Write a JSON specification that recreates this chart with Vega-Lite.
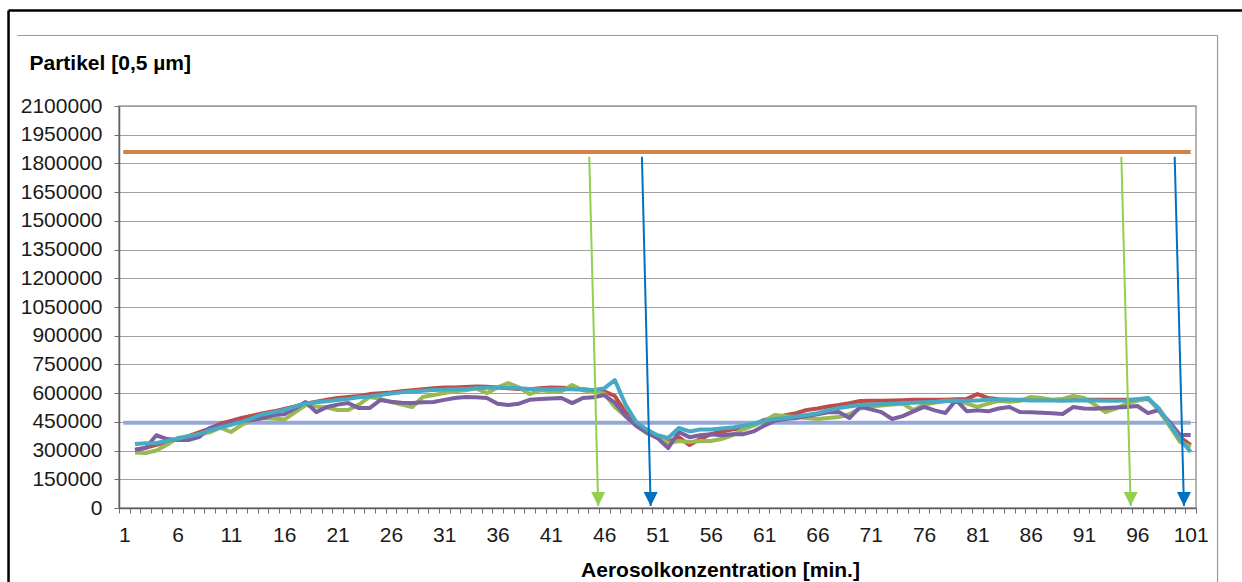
{
  "$schema": "https://vega.github.io/schema/vega-lite/v6.json",
  "width": 1077,
  "height": 402,
  "autosize": {"type": "none"},
  "padding": {"left": 119, "top": 106, "right": 46, "bottom": 74},
  "background": "#ffffff",
  "config": {
    "view": {"stroke": "#9a9a9a", "strokeWidth": 1.5},
    "font": "Liberation Sans",
    "axis": {
      "labelOverlap": false,
      "labelFlush": false,
      "labelFont": "Liberation Sans",
      "labelFontSize": 21,
      "labelColor": "#1a1a1a",
      "titleFont": "Liberation Sans",
      "titleFontSize": 21,
      "titleFontWeight": "bold",
      "titleColor": "#000000",
      "ticks": true,
      "tickSize": 5,
      "tickWidth": 1,
      "tickColor": "#707070",
      "domainColor": "#606060",
      "domainWidth": 1.5
    },
    "axisX": {"grid": false, "labelPadding": 11},
    "axisY": {"grid": true, "gridColor": "#a0a0a0", "gridWidth": 1.2, "labelPadding": 12}
  },
  "datasets": {
    "serien": [
      {"m":2,"R":305000,"G":290000,"P":303000,"T":334000},
      {"m":3,"R":315000,"G":287000,"P":313000,"T":338000},
      {"m":4,"R":330000,"G":300000,"P":380000,"T":340000},
      {"m":5,"R":345000,"G":330000,"P":360000,"T":350000},
      {"m":6,"R":360000,"G":366000,"P":355000,"T":362000},
      {"m":7,"R":375000,"G":375000,"P":355000,"T":374000},
      {"m":8,"R":395000,"G":385000,"P":370000,"T":386000},
      {"m":9,"R":415000,"G":395000,"P":418000,"T":405000},
      {"m":10,"R":440000,"G":420000,"P":430000,"T":420000},
      {"m":11,"R":455000,"G":397000,"P":445000,"T":434000},
      {"m":12,"R":470000,"G":434000,"P":455000,"T":450000},
      {"m":13,"R":482000,"G":460000,"P":460000,"T":470000},
      {"m":14,"R":495000,"G":470000,"P":470000,"T":490000},
      {"m":15,"R":505000,"G":468000,"P":486000,"T":500000},
      {"m":16,"R":518000,"G":462000,"P":490000,"T":512000},
      {"m":17,"R":530000,"G":500000,"P":520000,"T":530000},
      {"m":18,"R":545000,"G":538000,"P":554000,"T":545000},
      {"m":19,"R":555000,"G":530000,"P":501000,"T":552000},
      {"m":20,"R":565000,"G":525000,"P":528000,"T":558000},
      {"m":21,"R":575000,"G":512000,"P":540000,"T":564000},
      {"m":22,"R":580000,"G":512000,"P":548000,"T":570000},
      {"m":23,"R":585000,"G":540000,"P":522000,"T":578000},
      {"m":24,"R":595000,"G":580000,"P":522000,"T":583000},
      {"m":25,"R":600000,"G":570000,"P":564000,"T":590000},
      {"m":26,"R":603000,"G":554000,"P":555000,"T":598000},
      {"m":27,"R":610000,"G":540000,"P":550000,"T":604000},
      {"m":28,"R":615000,"G":528000,"P":548000,"T":608000},
      {"m":29,"R":620000,"G":580000,"P":552000,"T":612000},
      {"m":30,"R":625000,"G":590000,"P":554000,"T":616000},
      {"m":31,"R":630000,"G":600000,"P":565000,"T":618000},
      {"m":32,"R":630000,"G":610000,"P":575000,"T":620000},
      {"m":33,"R":632000,"G":615000,"P":580000,"T":622000},
      {"m":34,"R":635000,"G":625000,"P":578000,"T":625000},
      {"m":35,"R":633000,"G":600000,"P":575000,"T":628000},
      {"m":36,"R":630000,"G":630000,"P":545000,"T":630000},
      {"m":37,"R":625000,"G":653000,"P":538000,"T":628000},
      {"m":38,"R":622000,"G":630000,"P":545000,"T":625000},
      {"m":39,"R":620000,"G":595000,"P":565000,"T":622000},
      {"m":40,"R":625000,"G":615000,"P":570000,"T":620000},
      {"m":41,"R":630000,"G":610000,"P":572000,"T":620000},
      {"m":42,"R":628000,"G":610000,"P":575000,"T":622000},
      {"m":43,"R":625000,"G":642000,"P":548000,"T":620000},
      {"m":44,"R":620000,"G":615000,"P":575000,"T":618000},
      {"m":45,"R":615000,"G":605000,"P":578000,"T":617000},
      {"m":46,"R":610000,"G":598000,"P":590000,"T":625000},
      {"m":47,"R":585000,"G":528000,"P":550000,"T":668000},
      {"m":48,"R":500000,"G":480000,"P":480000,"T":540000},
      {"m":49,"R":440000,"G":430000,"P":430000,"T":450000},
      {"m":50,"R":400000,"G":390000,"P":395000,"T":410000},
      {"m":51,"R":370000,"G":370000,"P":365000,"T":380000},
      {"m":52,"R":345000,"G":340000,"P":313000,"T":366000},
      {"m":53,"R":370000,"G":350000,"P":397000,"T":418000},
      {"m":54,"R":329000,"G":345000,"P":370000,"T":400000},
      {"m":55,"R":360000,"G":350000,"P":380000,"T":410000},
      {"m":56,"R":385000,"G":350000,"P":385000,"T":410000},
      {"m":57,"R":400000,"G":360000,"P":380000,"T":415000},
      {"m":58,"R":410000,"G":380000,"P":385000,"T":420000},
      {"m":59,"R":420000,"G":410000,"P":385000,"T":430000},
      {"m":60,"R":435000,"G":430000,"P":400000,"T":440000},
      {"m":61,"R":460000,"G":455000,"P":430000,"T":455000},
      {"m":62,"R":470000,"G":486000,"P":455000,"T":465000},
      {"m":63,"R":485000,"G":480000,"P":465000,"T":470000},
      {"m":64,"R":495000,"G":475000,"P":470000,"T":478000},
      {"m":65,"R":512000,"G":470000,"P":480000,"T":486000},
      {"m":66,"R":520000,"G":465000,"P":490000,"T":495000},
      {"m":67,"R":530000,"G":470000,"P":500000,"T":510000},
      {"m":68,"R":538000,"G":475000,"P":501000,"T":522000},
      {"m":69,"R":548000,"G":490000,"P":470000,"T":530000},
      {"m":70,"R":559000,"G":520000,"P":528000,"T":538000},
      {"m":71,"R":560000,"G":530000,"P":515000,"T":540000},
      {"m":72,"R":560000,"G":535000,"P":501000,"T":542000},
      {"m":73,"R":562000,"G":540000,"P":465000,"T":545000},
      {"m":74,"R":563000,"G":545000,"P":480000,"T":548000},
      {"m":75,"R":565000,"G":512000,"P":505000,"T":550000},
      {"m":76,"R":565000,"G":540000,"P":528000,"T":552000},
      {"m":77,"R":566000,"G":550000,"P":510000,"T":555000},
      {"m":78,"R":565000,"G":560000,"P":496000,"T":558000},
      {"m":79,"R":568000,"G":562000,"P":564000,"T":560000},
      {"m":80,"R":570000,"G":545000,"P":506000,"T":560000},
      {"m":81,"R":595000,"G":528000,"P":510000,"T":562000},
      {"m":82,"R":575000,"G":545000,"P":505000,"T":565000},
      {"m":83,"R":568000,"G":560000,"P":520000,"T":565000},
      {"m":84,"R":565000,"G":555000,"P":528000,"T":565000},
      {"m":85,"R":566000,"G":560000,"P":501000,"T":564000},
      {"m":86,"R":565000,"G":580000,"P":500000,"T":562000},
      {"m":87,"R":565000,"G":575000,"P":498000,"T":562000},
      {"m":88,"R":564000,"G":565000,"P":495000,"T":562000},
      {"m":89,"R":566000,"G":570000,"P":491000,"T":560000},
      {"m":90,"R":565000,"G":585000,"P":528000,"T":562000},
      {"m":91,"R":566000,"G":575000,"P":520000,"T":563000},
      {"m":92,"R":565000,"G":540000,"P":518000,"T":562000},
      {"m":93,"R":565000,"G":501000,"P":522000,"T":560000},
      {"m":94,"R":566000,"G":520000,"P":525000,"T":560000},
      {"m":95,"R":565000,"G":545000,"P":528000,"T":562000},
      {"m":96,"R":566000,"G":560000,"P":533000,"T":568000},
      {"m":97,"R":570000,"G":575000,"P":496000,"T":575000},
      {"m":98,"R":520000,"G":510000,"P":512000,"T":520000},
      {"m":99,"R":440000,"G":430000,"P":450000,"T":440000},
      {"m":100,"R":370000,"G":345000,"P":381000,"T":360000},
      {"m":101,"R":329000,"G":319000,"P":381000,"T":293000}
    ],
    "grenzen": [
      {"x1": 0.9, "x2": 101, "y": 1860000, "farbe": "#D0844A"},
      {"x1": 0.9, "x2": 101, "y": 445000, "farbe": "#94A8D6"}
    ],
    "pfeile": [
      {"x1": 44.6, "y1": 1835000, "x2": 45.44, "y2": 10000, "farbe": "#92D050"},
      {"x1": 49.54, "y1": 1835000, "x2": 50.36, "y2": 10000, "farbe": "#0070C0"},
      {"x1": 94.5, "y1": 1835000, "x2": 95.37, "y2": 10000, "farbe": "#92D050"},
      {"x1": 99.5, "y1": 1835000, "x2": 100.37, "y2": 10000, "farbe": "#0070C0"}
    ],
    "rahmen": [
      {"x1": -9.86, "x2": 130, "y1": 2598880, "y2": 2598880, "farbe": "#000000", "w": 2.5},
      {"x1": -9.86, "x2": -9.86, "y1": 2598880, "y2": -700000, "farbe": "#000000", "w": 2.5},
      {"x1": -9.02, "x2": 103.52, "y1": 2468280, "y2": 2468280, "farbe": "#9a9a9a", "w": 1.2},
      {"x1": 103.52, "x2": 103.52, "y1": 2468280, "y2": -700000, "farbe": "#9a9a9a", "w": 1.2}
    ]
  },
  "layer": [
    {
      "data": {"name": "grenzen"},
      "mark": {"type": "rule", "strokeWidth": 4},
      "encoding": {
        "x": {
          "field": "x1",
          "type": "quantitative",
          "scale": {"domain": [0.5, 101.5], "nice": false, "zero": false},
          "axis": {
            "title": "Aerosolkonzentration [min.]",
            "titleX": 601,
            "titleY": 62,
            "titleBaseline": "middle",
            "titleAlign": "center",
            "titleAnchor": null,
            "tickCount": 200,
            "values": [0.5,1.5,2.5,3.5,4.5,5.5,6.5,7.5,8.5,9.5,10.5,11.5,12.5,13.5,14.5,15.5,16.5,17.5,18.5,19.5,20.5,21.5,22.5,23.5,24.5,25.5,26.5,27.5,28.5,29.5,30.5,31.5,32.5,33.5,34.5,35.5,36.5,37.5,38.5,39.5,40.5,41.5,42.5,43.5,44.5,45.5,46.5,47.5,48.5,49.5,50.5,51.5,52.5,53.5,54.5,55.5,56.5,57.5,58.5,59.5,60.5,61.5,62.5,63.5,64.5,65.5,66.5,67.5,68.5,69.5,70.5,71.5,72.5,73.5,74.5,75.5,76.5,77.5,78.5,79.5,80.5,81.5,82.5,83.5,84.5,85.5,86.5,87.5,88.5,89.5,90.5,91.5,92.5,93.5,94.5,95.5,96.5,97.5,98.5,99.5,100.5,101.5],
            "labelExpr": "(datum.value - 0.5) % 5 == 0 ? format(datum.value + 0.5, 'd') : ''",
            "labelOffset": 5.33,
            "labelFlush": false,
            "labelOverlap": false
          }
        },
        "x2": {"field": "x2"},
        "y": {
          "field": "y",
          "type": "quantitative",
          "scale": {"domain": [0, 2100000], "nice": false},
          "axis": {
            "title": "Partikel [0,5 µm]",
            "titleAngle": 0,
            "titleAlign": "left",
            "titleBaseline": "middle",
            "titleAnchor": null,
            "titleX": -90,
            "titleY": -43,
            "tickCount": 50,
            "values": [0,150000,300000,450000,600000,750000,900000,1050000,1200000,1350000,1500000,1650000,1800000,1950000,2100000],
            "format": "d",
            "labelOverlap": false
          }
        },
        "color": {"field": "farbe", "type": "nominal", "scale": null}
      }
    },
    {
      "data": {"name": "serien"},
      "transform": [
        {"fold": ["R", "G", "P", "T"], "as": ["serie", "wert"]}
      ],
      "mark": {"type": "line", "strokeWidth": 4, "strokeJoin": "round"},
      "encoding": {
        "x": {"field": "m", "type": "quantitative"},
        "y": {"field": "wert", "type": "quantitative"},
        "color": {
          "field": "serie",
          "type": "nominal",
          "scale": {"domain": ["R", "G", "P", "T"], "range": ["#BE4B48", "#98B954", "#7D60A0", "#46AAC5"]},
          "legend": null
        },
        "order": {"field": "m", "type": "quantitative"}
      }
    },
    {
      "data": {"name": "pfeile"},
      "mark": {"type": "rule", "strokeWidth": 2},
      "encoding": {
        "x": {"field": "x1", "type": "quantitative"},
        "x2": {"field": "x2"},
        "y": {"field": "y1", "type": "quantitative"},
        "y2": {"field": "y2"},
        "color": {"field": "farbe", "type": "nominal", "scale": null}
      }
    },
    {
      "data": {"name": "pfeile"},
      "mark": {"type": "point", "shape": "M-1,-2L1,-2L0,0Z", "filled": true, "size": 196, "opacity": 1},
      "encoding": {
        "x": {"field": "x2", "type": "quantitative"},
        "y": {"field": "y2", "type": "quantitative"},
        "color": {"field": "farbe", "type": "nominal", "scale": null}
      }
    },
    {
      "data": {"name": "rahmen"},
      "mark": {"type": "rule", "clip": false},
      "encoding": {
        "x": {"field": "x1", "type": "quantitative"},
        "x2": {"field": "x2"},
        "y": {"field": "y1", "type": "quantitative"},
        "y2": {"field": "y2"},
        "color": {"field": "farbe", "type": "nominal", "scale": null},
        "strokeWidth": {"field": "w", "type": "quantitative", "scale": null}
      }
    }
  ]
}
